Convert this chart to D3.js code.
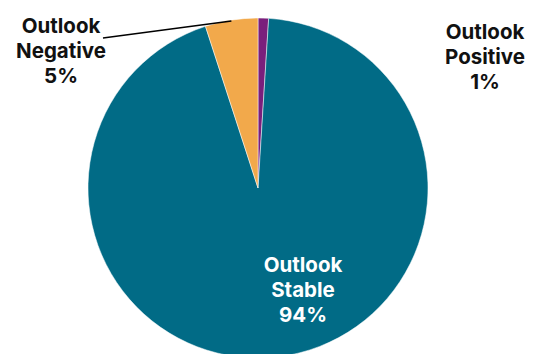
<!DOCTYPE html>
<html><head><meta charset="utf-8">
<script src="https://cdn.jsdelivr.net/npm/d3@7"></script>
<style>body{margin:0;background:#fff}svg{display:block}</style>
</head><body><svg id="c" width="535" height="354"></svg>
<script>
const categories = ["Outlook Positive", "Outlook Stable", "Outlook Negative"];
const values = [1, 94, 5];
const pctLabels = ["1%", "94%", "5%"];
const colors = ["#7a1f7c", "#016b86", "#f2a94b"];

const svg = d3.select("#c");
const cx = 258, cy = 188, R = 170;
const pie = d3.pie().sort(null).value(d => d)(values);
const arc = d3.arc().innerRadius(0).outerRadius(R);
const g = svg.append("g").attr("transform", `translate(${cx},${cy})`);
g.selectAll("path").data(pie).join("path")
  .attr("d", arc).attr("fill", (d, i) => colors[i])
  .attr("stroke", "#fff").attr("stroke-width", 0.5);

// leader line for Negative
const negMid = (pie[2].startAngle + pie[2].endAngle) / 2;
const lr = R;
svg.append("polyline")
  .attr("points", `103,38 ${cx + lr * Math.sin(negMid)},${cy - lr * Math.cos(negMid) + 1}`)
  .attr("fill", "none").attr("stroke", "#000").attr("stroke-width", 1.5);

const labelPos = [[485, 32, "#111"], [303, 265, "#fff"], [61, 26, "#111"]];
categories.forEach((c, i) => {
  const [x, y, col] = labelPos[i];
  const parts = c.split(" ");
  const t = svg.append("text").attr("text-anchor", "middle")
    .attr("font-family", "Inter, sans-serif").attr("font-weight", "bold")
    .attr("font-size", 20.5).attr("fill", col);
  [parts[0], parts[1], pctLabels[i]].forEach((s, k) => {
    t.append("tspan").attr("x", x).attr("y", y + 7 + k * 25).text(s);
  });
});
</script></body></html>
